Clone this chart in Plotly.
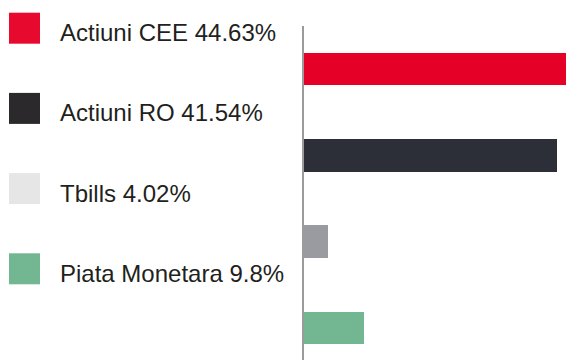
import plotly.graph_objects as go

# Portfolio allocation by asset class (%)
categories = ["Actiuni CEE", "Actiuni RO", "Tbills", "Piata Monetara"]
values = [44.63, 41.54, 4.02, 9.8]
bar_colors = ["#e50028", "#2c2f38", "#9a9ba0", "#72b692"]
key_colors = ["#e8092e", "#2b292b", "#e6e6e6", "#72b692"]

W, H = 566, 360
plot_left = 303.5   # px, where the bars start
plot_top = 26       # px, top of the plotting area

fig = go.Figure(
    go.Bar(
        x=values,
        y=categories,
        orientation="h",
        width=0.377,
        marker=dict(color=bar_colors, line=dict(width=0)),
        hoverinfo="x+y",
    )
)

fig.update_layout(
    width=W,
    height=H,
    margin=dict(l=0, r=0, t=0, b=0),
    paper_bgcolor="white",
    plot_bgcolor="white",
    showlegend=False,
    bargap=0,
    xaxis=dict(
        domain=[plot_left / W, 1],
        range=[0, 43.1],
        visible=False,
        fixedrange=True,
    ),
    yaxis=dict(
        domain=[0, 1 - plot_top / H],
        type="category",
        categoryorder="array",
        categoryarray=categories,
        range=[3.37, -0.5],
        showticklabels=False,
        ticks="",
        showgrid=False,
        zeroline=False,
        showline=True,
        linecolor="#9b9b9b",
        linewidth=1.5,
        fixedrange=True,
    ),
)

# Custom key on the left: coloured squares with name and share
sq = 31
for i, (name, val, col) in enumerate(zip(categories, values, key_colors)):
    top = 12.7 + i * 80.2
    fig.add_shape(
        type="rect",
        xref="paper", yref="paper",
        x0=9 / W, x1=(9 + sq) / W,
        y0=1 - (top + sq) / H, y1=1 - top / H,
        fillcolor=col,
        line=dict(width=0),
        layer="above",
    )
    fig.add_annotation(
        xref="paper", yref="paper",
        x=58 / W, y=1 - (top + 20) / H,
        xanchor="left", yanchor="middle",
        text=f"{name} {val}%",
        showarrow=False,
        font=dict(family="Liberation Sans, Arial, sans-serif", size=24, color="#231f20"),
    )

fig.write_html("out.html")
